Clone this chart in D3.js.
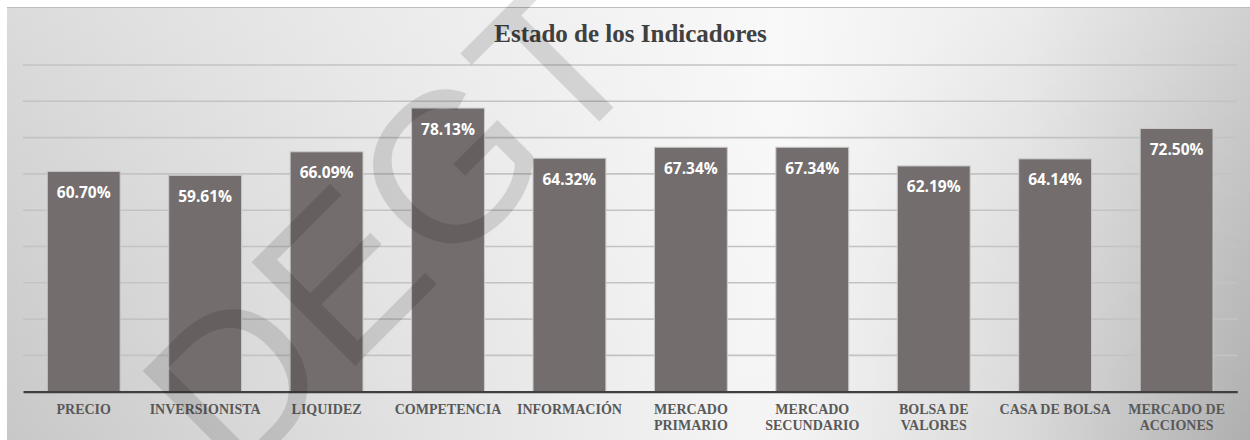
<!DOCTYPE html>
<html>
<head>
<meta charset="utf-8">
<script src="https://cdn.jsdelivr.net/npm/d3@7/dist/d3.min.js"></script>
<style>
html,body{margin:0;padding:0;background:#ffffff;}
svg{display:block;}
</style>
</head>
<body>
<svg id="chart" width="1250" height="440"></svg>
<script>
const title = "Estado de los Indicadores";
const categories = ["PRECIO","INVERSIONISTA","LIQUIDEZ","COMPETENCIA","INFORMACIÓN","MERCADO PRIMARIO","MERCADO SECUNDARIO","BOLSA DE VALORES","CASA DE BOLSA","MERCADO DE ACCIONES"];
const tickLabels = [["PRECIO"],["INVERSIONISTA"],["LIQUIDEZ"],["COMPETENCIA"],["INFORMACIÓN"],["MERCADO","PRIMARIO"],["MERCADO","SECUNDARIO"],["BOLSA DE","VALORES"],["CASA DE BOLSA"],["MERCADO DE","ACCIONES"]];
const values = [60.70, 59.61, 66.09, 78.13, 64.32, 67.34, 67.34, 62.19, 64.14, 72.50];
const gridTicks = [10, 20, 30, 40, 50, 60, 70, 80, 90];
const watermark = "DEGT";

const svg = d3.select("#chart");
const W = 1250, H = 440;
const plot = {left: 23, right: 1237.3, top: 65, bottom: 391.7};

// background gradient
const defs = svg.append("defs");
const lg = defs.append("linearGradient").attr("id","bg").attr("x1","0").attr("y1","0").attr("x2","1").attr("y2","0");
[[0,"#c8c8c8"],[0.3,"#e0e0e0"],[0.62,"#f6f6f6"],[0.82,"#e2e2e2"],[1,"#bcbcbc"]].forEach(([o,c])=>lg.append("stop").attr("offset",o).attr("stop-color",c));
const vg = defs.append("linearGradient").attr("id","bgv").attr("x1","0").attr("y1","0").attr("x2","0").attr("y2","1");
vg.append("stop").attr("offset",0).attr("stop-color","#ffffff").attr("stop-opacity",0.35);
vg.append("stop").attr("offset",1).attr("stop-color","#ffffff").attr("stop-opacity",0);
const rg = defs.append("radialGradient").attr("id","bgr").attr("gradientUnits","userSpaceOnUse")
  .attr("cx",1250).attr("cy",440).attr("r",520);
rg.append("stop").attr("offset",0).attr("stop-color","#000000").attr("stop-opacity",0.07);
rg.append("stop").attr("offset",1).attr("stop-color","#000000").attr("stop-opacity",0);

svg.append("rect").attr("x",7).attr("y",7).attr("width",W-7).attr("height",H-7).attr("fill","url(#bg)");
svg.append("rect").attr("x",7).attr("y",7).attr("width",W-7).attr("height",H-7).attr("fill","url(#bgv)");
svg.append("rect").attr("x",7).attr("y",7).attr("width",W-7).attr("height",H-7).attr("fill","url(#bgr)");
svg.append("line").attr("x1",7).attr("x2",W).attr("y1",7.5).attr("y2",7.5).attr("stroke","#bcbcbc").attr("stroke-width",1);

const x = d3.scaleBand().domain(categories).range([plot.left, plot.right]).paddingInner(0.4).paddingOuter(0.2);
const y = d3.scaleLinear().domain([0, 90]).range([plot.bottom, plot.top]);

// gridlines
svg.append("g").selectAll("line").data(gridTicks).join("line")
  .attr("x1", plot.left).attr("x2", plot.right)
  .attr("y1", d=>y(d)).attr("y2", d=>y(d))
  .attr("stroke","#c3c3c3").attr("stroke-width",1.6);

// title
svg.append("text").attr("x",630.5).attr("y",42.3).attr("text-anchor","middle")
  .attr("font-family","'Liberation Serif', 'Times New Roman', serif").attr("font-weight","bold")
  .attr("font-size",25).attr("fill","#404040").text(title);

// bars
svg.append("g").selectAll("rect").data(values).join("rect")
  .attr("x",(d,i)=>x(categories[i])).attr("width",x.bandwidth())
  .attr("y",d=>y(d)).attr("height",d=>y(0)-y(d))
  .attr("fill","#736e6d").attr("stroke","#c9c9c9").attr("stroke-width",1);

// value labels
svg.append("g").selectAll("text").data(values).join("text")
  .attr("x",(d,i)=>x(categories[i])+x.bandwidth()/2)
  .attr("y",d=>y(d)+26.5)
  .attr("text-anchor","middle")
  .attr("font-family","'Open Sans', sans-serif").attr("font-weight","bold")
  .attr("font-size",15.5).attr("fill","#ffffff")
  .text(d=>d.toFixed(2)+"%");

// x axis
const axis = d3.axisBottom(x).tickSize(0).tickPadding(0).tickFormat("");
const ax = svg.append("g").attr("transform",`translate(0,${plot.bottom})`).call(axis);
ax.select(".domain").attr("stroke","#3f3f3f").attr("stroke-width",2.2);
ax.selectAll(".tick").each(function(d,i){
  const t = d3.select(this).select("text");
  t.text(null).attr("y",0).attr("dy",null)
   .attr("font-family","'Liberation Serif', 'Times New Roman', serif").attr("font-weight","bold")
   .attr("font-size",14).attr("fill","#595959");
  tickLabels[i].forEach((ln,k)=>{
    t.append("tspan").attr("x",0).attr("y",22+16.5*k).text(ln);
  });
});

// watermark
svg.append("text").attr("transform","translate(234,487) rotate(-45)")
  .attr("font-family","'Liberation Sans', Arial, sans-serif").attr("font-size",213)
  .attr("fill","#000000").attr("fill-opacity",0.12).text(watermark);
</script>
</body>
</html>
